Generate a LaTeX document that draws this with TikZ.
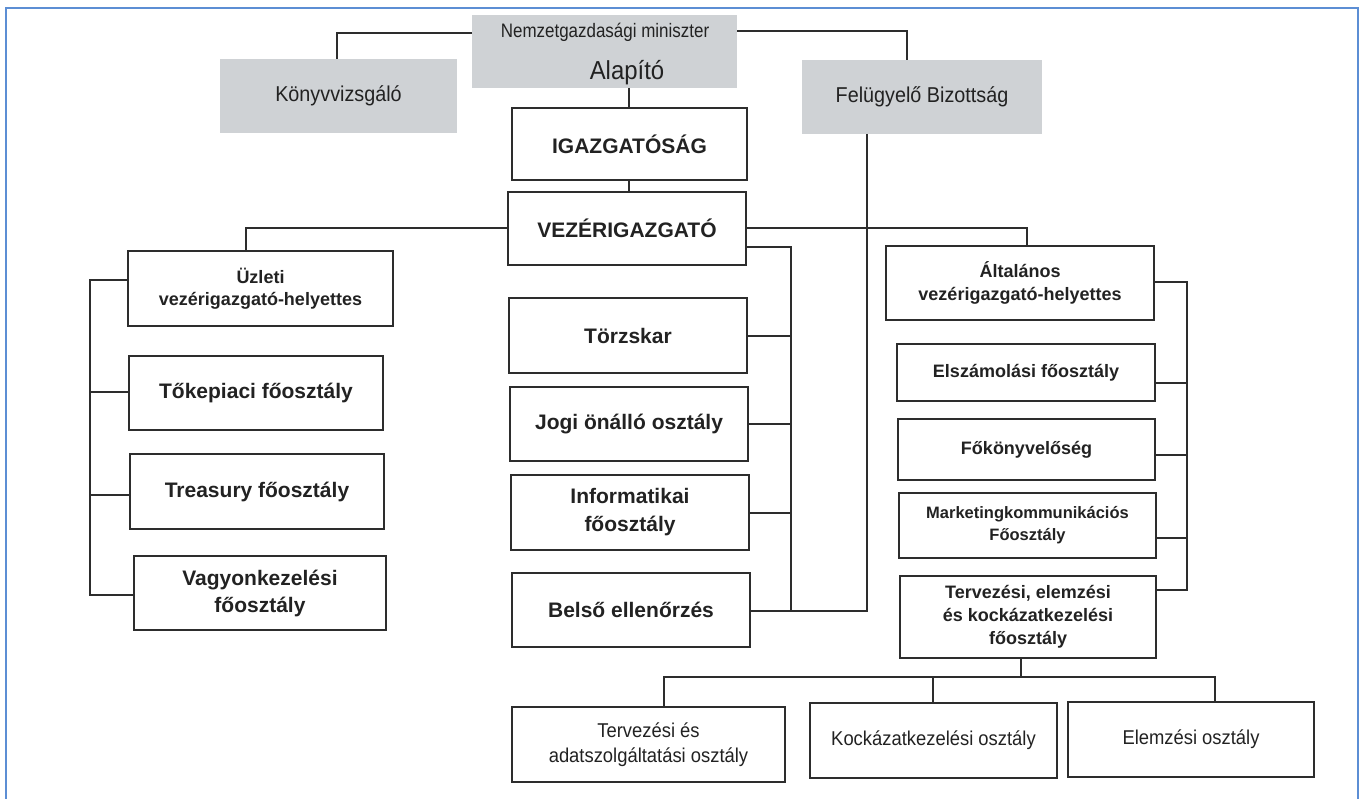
\documentclass[tikz,border=0pt]{standalone}
\usepackage{fontspec}
\setmainfont{Liberation Sans}
\newfontfamily\narrowfont[FakeStretch=0.87]{Liberation Sans}
\newfontfamily\semifont[FakeStretch=0.92]{Liberation Sans}
\definecolor{linec}{RGB}{45,45,45}
\definecolor{txt}{RGB}{34,34,34}
\definecolor{boxgray}{RGB}{207,210,213}
\definecolor{frameblue}{RGB}{92,142,212}
\newcommand\fsz[2]{\fontsize{#1}{#2}\selectfont}
\tikzset{
  box/.style={draw=linec, line width=2pt, fill=white, inner sep=0pt, outer sep=0pt,
              align=center, text=txt},
  graybox/.style={fill=boxgray, inner sep=0pt, outer sep=0pt, align=center, text=txt},
  link/.style={draw=linec, line width=2pt},
  lbl/.style={inner sep=0pt, text=txt},
}
\begin{document}
\begin{tikzpicture}[x=1pt, y=-1pt]
\useasboundingbox (0,0) rectangle (1364,799);
\fill[white] (0,0) rectangle (1364,799);
% outer frame
\draw[frameblue, line width=2.4pt] (6,805) -- (6,8) -- (1358,8) -- (1358,805);

% --- top level (grey) ---
\node[graybox, minimum width=265pt, minimum height=73pt] (nem) at (604.5,51.5) {};
\node[lbl, font=\narrowfont\fsz{19.5}{22}] (nemA) at (605,32) {Nemzetgazdasági miniszter};
\node[lbl, font=\semifont\fsz{26}{28}] (nemB) at (627,73) {Alapító};
\node[graybox, minimum width=237pt, minimum height=74pt, font=\semifont\fsz{21.5}{24}] (konyv) at (338.5,96) {Könyvvizsgáló};
\node[graybox, minimum width=240pt, minimum height=74pt, font=\semifont\fsz{21.5}{24}] (fb) at (922,97) {Felügyelő Bizottság};

\coordinate (kx) at (337,0);
\coordinate (fx) at (907,0);
\draw[link] (nem.west |- 0,33) -- (kx |- 0,33) -- (kx |- konyv.north);
\draw[link] (nem.east |- 0,31) -- (fx |- 0,31) -- (fx |- fb.north);

% --- board and CEO ---
\node[box, minimum width=235pt, minimum height=72pt, font=\bfseries\fsz{21}{25}] (igaz) at (629.5,144) {IGAZGATÓSÁG};
\node[box, minimum width=238pt, minimum height=73pt, font=\bfseries\fsz{21}{25}] (vez) at (627,228.5) {VEZÉRIGAZGATÓ};
\coordinate (ax) at (629,0);
\draw[link] (ax |- nem.south) -- (ax |- igaz.north);
\draw[link] (ax |- igaz.south) -- (ax |- vez.north);

% --- left branch ---
\node[box, minimum width=265pt, minimum height=75pt, font=\bfseries\fsz{18}{22}] (uz) at (260.5,288.5) {Üzleti\\vezérigazgató-helyettes};
\node[box, minimum width=254pt, minimum height=74pt, font=\bfseries\fsz{21}{27}] (tok) at (256,393) {Tőkepiaci főosztály};
\node[box, minimum width=254pt, minimum height=75pt, font=\bfseries\fsz{21}{27}] (tre) at (257,491.5) {Treasury főosztály};
\node[box, minimum width=252pt, minimum height=74pt, font=\bfseries\fsz{21}{27}] (vag) at (260,593) {Vagyonkezelési\\főosztály};

\coordinate (ux) at (246,0);
\draw[link] (vez.west) -- (ux |- vez.west) -- (ux |- uz.north);
\coordinate (lb1) at (90,280);
\coordinate (lb2) at (90,392);
\coordinate (lb3) at (90,495);
\coordinate (lb4) at (90,595);
\draw[link] (lb1 -| uz.west) -- (lb1) -- (lb4) -- (lb4 -| vag.west);
\draw[link] (lb2) -- (lb2 -| tok.west);
\draw[link] (lb3) -- (lb3 -| tre.west);

% --- staff units under the CEO ---
\node[box, minimum width=238pt, minimum height=75pt, font=\bfseries\fsz{21}{28}] (tor) at (628,335.5) {Törzskar};
\node[box, minimum width=238pt, minimum height=74pt, font=\bfseries\fsz{21}{28}] (jog) at (629,424) {Jogi önálló osztály};
\node[box, minimum width=238pt, minimum height=75pt, font=\bfseries\fsz{21}{28}] (inf) at (630,512.5) {Informatikai\\főosztály};
\node[box, minimum width=238pt, minimum height=74pt, font=\bfseries\fsz{21}{28}] (bel) at (631,610) {Belső ellenőrzés};

\coordinate (cb1) at (791,247);
\coordinate (cb2) at (791,611);
\draw[link] (cb1 -| vez.east) -- (cb1) -- (cb2) -- (cb2 -| bel.east);
\draw[link] (tor.east) -- (tor.east -| cb1);
\draw[link] (jog.east) -- (jog.east -| cb1);
\draw[link] (inf.east) -- (inf.east -| cb1);
% supervisory board line
\coordinate (fbx) at (867,0);
\draw[link] (fbx |- fb.south) -- (fbx |- cb2) -- (cb2);

% --- right branch ---
\node[box, minimum width=268pt, minimum height=74pt, font=\bfseries\fsz{18}{23}] (alt) at (1020,283) {Általános\\vezérigazgató-helyettes};
\node[box, minimum width=258pt, minimum height=57pt, font=\bfseries\fsz{18}{22}] (elsz) at (1026,372.5) {Elszámolási főosztály};
\node[box, minimum width=257pt, minimum height=61pt, font=\bfseries\fsz{18}{22}] (fok) at (1026.5,449.5) {Főkönyvelőség};
\node[box, minimum width=257pt, minimum height=65pt, font=\bfseries\fsz{16.5}{22}] (mkt) at (1027.5,525.5) {Marketingkommunikációs\\Főosztály};
\node[box, minimum width=256pt, minimum height=82pt, font=\bfseries\fsz{18}{23}] (ter) at (1028,617) {Tervezési, elemzési\\és kockázatkezelési\\főosztály};

\coordinate (ax2) at (1027,0);
\draw[link] (vez.east) -- (ax2 |- vez.east) -- (ax2 |- alt.north);
\coordinate (rb1) at (1187,282);
\coordinate (rb2) at (1187,383);
\coordinate (rb3) at (1187,455);
\coordinate (rb4) at (1187,538);
\coordinate (rb5) at (1187,590);
\draw[link] (rb1 -| alt.east) -- (rb1) -- (rb5) -- (rb5 -| ter.east);
\draw[link] (rb2) -- (rb2 -| elsz.east);
\draw[link] (rb3) -- (rb3 -| fok.east);
\draw[link] (rb4) -- (rb4 -| mkt.east);

% --- departments under planning ---
\node[box, minimum width=273pt, minimum height=75pt, font=\semifont\fsz{20}{25}] (ta) at (648.5,744.5) {Tervezési és\\adatszolgáltatási osztály};
\node[box, minimum width=247pt, minimum height=75pt, font=\semifont\fsz{20}{25}] (kock) at (933.5,740.5) {Kockázatkezelési osztály};
\node[box, minimum width=246pt, minimum height=75pt, font=\semifont\fsz{20}{25}] (elem) at (1191,739.5) {Elemzési osztály};

\coordinate (tx) at (1021,677);
\coordinate (hb1) at (664,677);
\coordinate (hb2) at (933,677);
\coordinate (hb3) at (1215,677);
\draw[link] (tx |- ter.south) -- (tx);
\draw[link] (hb1 |- ta.north) -- (hb1) -- (hb3) -- (hb3 |- elem.north);
\draw[link] (hb2) -- (hb2 |- kock.north);
\end{tikzpicture}
\end{document}
